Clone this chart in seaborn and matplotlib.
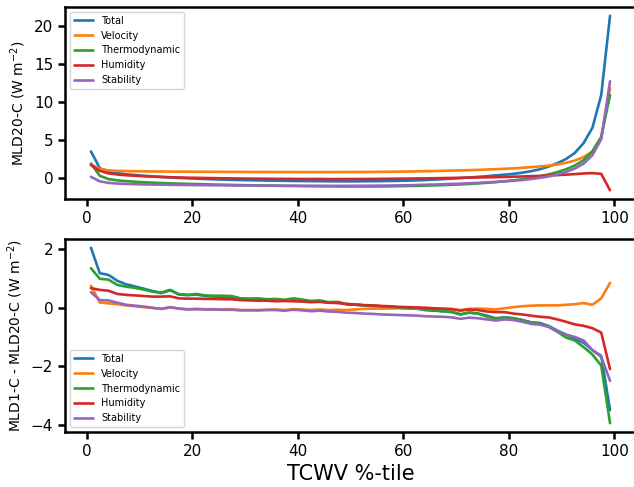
import matplotlib
matplotlib.use("Agg")
import matplotlib.pyplot as plt
import seaborn as sns

# TCWV percentile bin centres (60 bins)
pct = [0.83, 2.5, 4.17, 5.83, 7.5, 9.17, 10.83, 12.5, 14.17, 15.83,
       17.5, 19.17, 20.83, 22.5, 24.17, 25.83, 27.5, 29.17, 30.83, 32.5,
       34.17, 35.83, 37.5, 39.17, 40.83, 42.5, 44.17, 45.83, 47.5, 49.17,
       50.83, 52.5, 54.17, 55.83, 57.5, 59.17, 60.83, 62.5, 64.17, 65.83,
       67.5, 69.17, 70.83, 72.5, 74.17, 75.83, 77.5, 79.17, 80.83, 82.5,
       84.17, 85.83, 87.5, 89.17, 90.83, 92.5, 94.17, 95.83, 97.5, 99.17]

terms = ["Total", "Velocity", "Thermodynamic", "Humidity", "Stability"]

# MLD20-C fluxes (W m-2)
mld20_total = [3.5, 1.3, 0.85, 0.65, 0.5, 0.4, 0.3, 0.22, 0.15, 0.08,
               0.02, -0.03, -0.08, -0.12, -0.16, -0.2, -0.23, -0.26, -0.28, -0.3,
               -0.32, -0.34, -0.36, -0.38, -0.39, -0.4, -0.41, -0.42, -0.43, -0.43,
               -0.43, -0.42, -0.41, -0.4, -0.38, -0.36, -0.34, -0.3, -0.26, -0.2,
               -0.14, -0.07, 0.0, 0.08, 0.16, 0.25, 0.35, 0.45, 0.55, 0.7,
               0.9, 1.15, 1.5, 1.95, 2.5, 3.3, 4.6, 6.6, 10.9, 21.3]
mld20_velocity = [1.8, 1.2, 1.0, 0.95, 0.92, 0.9, 0.88, 0.87, 0.86, 0.85,
                  0.84, 0.84, 0.83, 0.83, 0.82, 0.82, 0.81, 0.81, 0.8, 0.8,
                  0.8, 0.79, 0.79, 0.79, 0.78, 0.78, 0.78, 0.78, 0.79, 0.79,
                  0.8, 0.8, 0.81, 0.82, 0.83, 0.84, 0.86, 0.88, 0.9, 0.92,
                  0.95, 0.98, 1.01, 1.04, 1.08, 1.12, 1.17, 1.22, 1.28, 1.35,
                  1.43, 1.52, 1.63, 1.78, 2.0, 2.3, 2.75, 3.5, 5.3, 11.8]
mld20_thermo = [1.9, 0.3, -0.13, -0.3, -0.4, -0.48, -0.55, -0.6, -0.65, -0.69,
                -0.73, -0.76, -0.79, -0.82, -0.85, -0.87, -0.9, -0.92, -0.94, -0.96,
                -0.98, -1.0, -1.02, -1.03, -1.05, -1.06, -1.07, -1.08, -1.09, -1.1,
                -1.1, -1.1, -1.1, -1.09, -1.08, -1.06, -1.04, -1.02, -0.99, -0.96,
                -0.92, -0.88, -0.83, -0.77, -0.7, -0.62, -0.53, -0.42, -0.3, -0.15,
                0.02, 0.22, 0.48, 0.78, 1.15, 1.65, 2.35, 3.5, 5.4, 10.9]
mld20_humidity = [1.7, 0.95, 0.62, 0.47, 0.37, 0.3, 0.24, 0.19, 0.15, 0.11,
                  0.08, 0.05, 0.03, 0.01, -0.01, -0.03, -0.04, -0.06, -0.07, -0.08,
                  -0.09, -0.1, -0.1, -0.11, -0.12, -0.12, -0.12, -0.13, -0.13, -0.13,
                  -0.12, -0.12, -0.11, -0.1, -0.09, -0.08, -0.07, -0.05, -0.04, -0.02,
                  0.0, 0.02, 0.04, 0.06, 0.08, 0.1, 0.12, 0.15, 0.18, 0.21,
                  0.25, 0.29, 0.34, 0.39, 0.45, 0.52, 0.6, 0.65, 0.55, -1.6]
mld20_stability = [0.17, -0.43, -0.63, -0.72, -0.77, -0.8, -0.83, -0.85, -0.87, -0.88,
                   -0.9, -0.91, -0.92, -0.93, -0.94, -0.95, -0.96, -0.97, -0.98, -0.99,
                   -1.0, -1.0, -1.01, -1.01, -1.02, -1.02, -1.02, -1.02, -1.02, -1.02,
                   -1.01, -1.01, -1.0, -0.99, -0.98, -0.96, -0.94, -0.91, -0.88, -0.85,
                   -0.81, -0.77, -0.73, -0.68, -0.63, -0.57, -0.5, -0.43, -0.35, -0.25,
                   -0.13, 0.02, 0.22, 0.47, 0.8, 1.25, 1.9, 3.0, 5.1, 12.7]

# MLD1-C minus MLD20-C differences (W m-2)
diff_total = [2.05, 1.18, 1.12, 0.92, 0.8, 0.73, 0.65, 0.57, 0.5, 0.6,
              0.45, 0.43, 0.45, 0.4, 0.38, 0.37, 0.37, 0.3, 0.3, 0.29,
              0.27, 0.28, 0.25, 0.27, 0.25, 0.2, 0.22, 0.17, 0.18, 0.12,
              0.1, 0.08, 0.06, 0.05, 0.03, 0.0, -0.02, -0.03, -0.08, -0.1,
              -0.12, -0.15, -0.22, -0.17, -0.2, -0.27, -0.36, -0.33, -0.36, -0.42,
              -0.5, -0.52, -0.62, -0.78, -0.92, -1.05, -1.2, -1.45, -1.65, -3.5]
diff_velocity = [0.75, 0.18, 0.15, 0.12, 0.08, 0.05, 0.02, -0.01, -0.04, 0.01,
                 -0.03, -0.05, -0.04, -0.05, -0.05, -0.06, -0.05, -0.08, -0.08, -0.08,
                 -0.07, -0.06, -0.08, -0.05, -0.06, -0.08, -0.06, -0.08, -0.07, -0.08,
                 -0.06, -0.04, -0.03, -0.03, -0.03, -0.02, -0.02, -0.03, -0.04, -0.03,
                 -0.05, -0.04, -0.08, -0.04, -0.03, -0.04, -0.06, -0.02, 0.02, 0.05,
                 0.07, 0.08, 0.08, 0.08, 0.1, 0.12, 0.16, 0.1, 0.32, 0.85]
diff_thermo = [1.35, 0.99, 0.96, 0.78, 0.72, 0.68, 0.62, 0.55, 0.52, 0.61,
               0.46, 0.44, 0.47, 0.42, 0.41, 0.41, 0.4, 0.32, 0.31, 0.32,
               0.29, 0.3, 0.27, 0.32, 0.28, 0.23, 0.25, 0.19, 0.2, 0.13,
               0.11, 0.08, 0.07, 0.05, 0.03, 0.01, -0.01, -0.02, -0.07, -0.09,
               -0.12, -0.14, -0.24, -0.16, -0.2, -0.3, -0.38, -0.33, -0.36, -0.42,
               -0.5, -0.55, -0.65, -0.82, -1.02, -1.12, -1.35, -1.6, -1.98, -3.95]
diff_humidity = [0.67, 0.61, 0.58, 0.47, 0.44, 0.42, 0.4, 0.38, 0.38, 0.39,
                 0.32, 0.31, 0.31, 0.3, 0.3, 0.29, 0.29, 0.26, 0.25, 0.24,
                 0.24, 0.22, 0.23, 0.22, 0.21, 0.19, 0.2, 0.17, 0.16, 0.13,
                 0.11, 0.09, 0.08, 0.06, 0.05, 0.03, 0.02, 0.01, 0.0, -0.02,
                 -0.03, -0.05, -0.1, -0.06, -0.08, -0.13, -0.15, -0.15, -0.2, -0.23,
                 -0.27, -0.31, -0.33, -0.4, -0.48, -0.57, -0.62, -0.7, -0.85, -2.1]
diff_stability = [0.53, 0.26, 0.25, 0.17, 0.1, 0.07, 0.04, 0.0, -0.04, 0.02,
                  -0.03, -0.06, -0.05, -0.06, -0.06, -0.07, -0.07, -0.09, -0.09, -0.09,
                  -0.08, -0.08, -0.1, -0.07, -0.09, -0.12, -0.1, -0.13, -0.14, -0.17,
                  -0.18, -0.2, -0.21, -0.23, -0.24, -0.25, -0.26, -0.27, -0.29, -0.3,
                  -0.31, -0.33, -0.38, -0.34, -0.36, -0.4, -0.44, -0.4, -0.42, -0.48,
                  -0.55, -0.58, -0.65, -0.8, -0.92, -1.0, -1.12, -1.45, -1.68, -2.5]

sns.set_theme(context="notebook", style="ticks", palette="tab10")
plt.rcParams.update({
    "axes.linewidth": 1.8,
    "axes.edgecolor": "black",
    "axes.labelcolor": "black",
    "text.color": "black",
    "xtick.color": "black",
    "ytick.color": "black",
    "xtick.major.width": 1.8,
    "ytick.major.width": 1.8,
    "xtick.major.size": 5,
    "ytick.major.size": 5,
    "xtick.labelsize": 11,
    "ytick.labelsize": 11,
})
plt.rcParams["font.family"] = ["DejaVu Sans"]

colors = sns.color_palette("tab10", 5)

fig = plt.figure(figsize=(6.34, 4.87), dpi=100)
W, H = 634.0, 487.0
ax1 = fig.add_axes([65 / W, (H - 199) / H, 571 / W, 192 / H])
ax2 = fig.add_axes([65 / W, (H - 432) / H, 571 / W, 193 / H])

top_series = [mld20_total, mld20_velocity, mld20_thermo, mld20_humidity, mld20_stability]
bot_series = [diff_total, diff_velocity, diff_thermo, diff_humidity, diff_stability]

for name, vals, c in zip(terms, top_series, colors):
    sns.lineplot(x=pct, y=vals, color=c, label=name, linewidth=1.9, ax=ax1)
for name, vals, c in zip(terms, bot_series, colors):
    sns.lineplot(x=pct, y=vals, color=c, label=name, linewidth=1.9, ax=ax2)

ax1.set_ylabel("MLD20-C (W m$^{-2}$)", fontsize=10)
ax2.set_ylabel("MLD1-C - MLD20-C (W m$^{-2}$)", fontsize=10)
ax2.set_xlabel("TCWV %-tile", fontsize=15)
ax1.set_xlabel("")

ax1.set_xticks([0, 20, 40, 60, 80, 100])
ax2.set_xticks([0, 20, 40, 60, 80, 100])
ax1.set_yticks([0, 5, 10, 15, 20])
ax2.set_yticks([-4, -2, 0, 2])

ax1.legend(loc="upper left", fontsize=7)
ax2.legend(loc="lower left", fontsize=7)

fig.savefig("out.png", dpi=100)
